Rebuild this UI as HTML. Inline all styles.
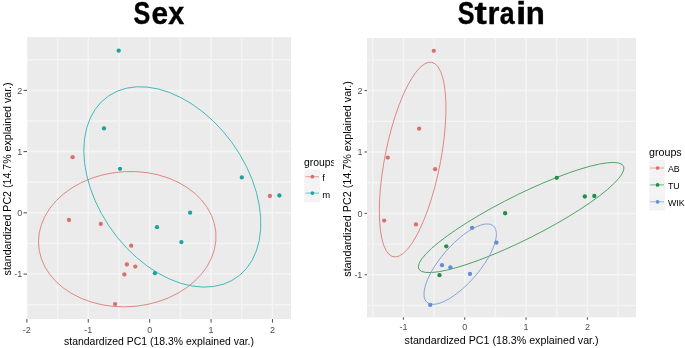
<!DOCTYPE html><html><head><meta charset="utf-8"><style>html,body{margin:0;padding:0;background:#fff;overflow:hidden}svg{display:block}</style></head><body>
<svg width="685" height="348" viewBox="0 0 685 348" font-family="Liberation Sans, Arial, sans-serif">
<rect width="685" height="348" fill="#fff"/>
<defs><clipPath id="cl"><rect x="27" y="37.2" width="264" height="281.9"/></clipPath></defs>
<rect x="27" y="37.2" width="264" height="281.9" fill="#EBEBEB"/>
<g clip-path="url(#cl)">
<line x1="57.56" y1="37.2" x2="57.56" y2="319.1" stroke="#F4F4F4" stroke-width="1.4"/>
<line x1="118.96" y1="37.2" x2="118.96" y2="319.1" stroke="#F4F4F4" stroke-width="1.4"/>
<line x1="180.36" y1="37.2" x2="180.36" y2="319.1" stroke="#F4F4F4" stroke-width="1.4"/>
<line x1="241.76" y1="37.2" x2="241.76" y2="319.1" stroke="#F4F4F4" stroke-width="1.4"/>
<line x1="27" y1="59.77" x2="291" y2="59.77" stroke="#F4F4F4" stroke-width="1.4"/>
<line x1="27" y1="121" x2="291" y2="121" stroke="#F4F4F4" stroke-width="1.4"/>
<line x1="27" y1="182.22" x2="291" y2="182.22" stroke="#F4F4F4" stroke-width="1.4"/>
<line x1="27" y1="243.46" x2="291" y2="243.46" stroke="#F4F4F4" stroke-width="1.4"/>
<line x1="27" y1="304.69" x2="291" y2="304.69" stroke="#F4F4F4" stroke-width="1.4"/>
<line x1="26.86" y1="37.2" x2="26.86" y2="319.1" stroke="#F5F5F5" stroke-width="1.5"/>
<line x1="88.26" y1="37.2" x2="88.26" y2="319.1" stroke="#F5F5F5" stroke-width="1.5"/>
<line x1="149.66" y1="37.2" x2="149.66" y2="319.1" stroke="#F5F5F5" stroke-width="1.5"/>
<line x1="211.06" y1="37.2" x2="211.06" y2="319.1" stroke="#F5F5F5" stroke-width="1.5"/>
<line x1="272.46" y1="37.2" x2="272.46" y2="319.1" stroke="#F5F5F5" stroke-width="1.5"/>
<line x1="27" y1="90.38" x2="291" y2="90.38" stroke="#F5F5F5" stroke-width="1.5"/>
<line x1="27" y1="151.61" x2="291" y2="151.61" stroke="#F5F5F5" stroke-width="1.5"/>
<line x1="27" y1="212.84" x2="291" y2="212.84" stroke="#F5F5F5" stroke-width="1.5"/>
<line x1="27" y1="274.07" x2="291" y2="274.07" stroke="#F5F5F5" stroke-width="1.5"/>
<path d="M38.47,241.77 L39.2,250.39 L41.38,258.84 L44.96,266.96 L49.9,274.62 L56.1,281.7 L63.48,288.09 L71.9,293.67 L81.23,298.35 L91.31,302.07 L101.99,304.75 L113.08,306.35 L124.4,306.85 L135.77,306.24 L147,304.53 L157.9,301.75 L168.3,297.93 L178.03,293.16 L186.93,287.49 L194.84,281.03 L201.64,273.89 L207.23,266.17 L211.49,258.01 L214.38,249.55 L215.83,240.91 L215.83,232.24 L214.38,223.69 L211.49,215.39 L207.23,207.48 L201.64,200.09 L194.84,193.34 L186.93,187.35 L178.03,182.2 L168.3,178 L157.9,174.79 L147,172.65 L135.77,171.59 L124.4,171.65 L113.08,172.81 L101.99,175.06 L91.31,178.37 L81.23,182.67 L71.9,187.91 L63.48,193.98 L56.1,200.79 L49.9,208.24 L44.96,216.19 L41.38,224.52 L39.2,233.09 L38.47,241.77Z" fill="none" stroke="#DC8882" stroke-width="1.0"/>
<path d="M83.8,150.42 L84.53,162.65 L86.7,175.28 L90.27,188.1 L95.19,200.9 L101.38,213.48 L108.73,225.61 L117.13,237.12 L126.43,247.79 L136.49,257.47 L147.14,265.99 L158.19,273.21 L169.48,279.02 L180.82,283.31 L192.02,286.02 L202.89,287.1 L213.27,286.54 L222.97,284.34 L231.84,280.54 L239.73,275.21 L246.51,268.42 L252.08,260.3 L256.33,250.97 L259.21,240.59 L260.66,229.33 L260.66,217.37 L259.21,204.92 L256.33,192.16 L252.08,179.33 L246.51,166.61 L239.73,154.23 L231.84,142.39 L222.97,131.28 L213.27,121.08 L202.89,111.96 L192.02,104.07 L180.82,97.55 L169.48,92.49 L158.19,88.98 L147.14,87.08 L136.49,86.82 L126.43,88.2 L117.13,91.21 L108.73,95.78 L101.38,101.86 L95.19,109.32 L90.27,118.07 L86.7,127.94 L84.53,138.78 L83.8,150.42Z" fill="none" stroke="#44B8B8" stroke-width="1.0"/>
<circle cx="72.6" cy="157.2" r="2.15" fill="#D87070"/>
<circle cx="69" cy="220" r="2.15" fill="#D87070"/>
<circle cx="100.8" cy="223.9" r="2.15" fill="#D87070"/>
<circle cx="131.2" cy="245.7" r="2.15" fill="#D87070"/>
<circle cx="126.9" cy="264.5" r="2.15" fill="#D87070"/>
<circle cx="135.3" cy="266.6" r="2.15" fill="#D87070"/>
<circle cx="124.4" cy="274.5" r="2.15" fill="#D87070"/>
<circle cx="115.1" cy="304.1" r="2.15" fill="#D87070"/>
<circle cx="269.9" cy="196" r="2.15" fill="#D87070"/>
<circle cx="118.7" cy="50.7" r="2.15" fill="#1DA39C"/>
<circle cx="104" cy="128.4" r="2.15" fill="#1DA39C"/>
<circle cx="120" cy="168.8" r="2.15" fill="#1DA39C"/>
<circle cx="241.8" cy="177.4" r="2.15" fill="#1DA39C"/>
<circle cx="279.4" cy="195.5" r="2.15" fill="#1DA39C"/>
<circle cx="190.1" cy="212.7" r="2.15" fill="#1DA39C"/>
<circle cx="157" cy="227.2" r="2.15" fill="#1DA39C"/>
<circle cx="181.4" cy="242.1" r="2.15" fill="#1DA39C"/>
<circle cx="154.9" cy="273.2" r="2.15" fill="#1DA39C"/>
</g>
<line x1="26.86" y1="319.1" x2="26.86" y2="322.6" stroke="#333" stroke-width="0.9"/>
<text x="26.86" y="333" text-anchor="middle" font-size="9" fill="#4D4D4D">-2</text>
<line x1="88.26" y1="319.1" x2="88.26" y2="322.6" stroke="#333" stroke-width="0.9"/>
<text x="88.26" y="333" text-anchor="middle" font-size="9" fill="#4D4D4D">-1</text>
<line x1="149.66" y1="319.1" x2="149.66" y2="322.6" stroke="#333" stroke-width="0.9"/>
<text x="149.66" y="333" text-anchor="middle" font-size="9" fill="#4D4D4D">0</text>
<line x1="211.06" y1="319.1" x2="211.06" y2="322.6" stroke="#333" stroke-width="0.9"/>
<text x="211.06" y="333" text-anchor="middle" font-size="9" fill="#4D4D4D">1</text>
<line x1="272.46" y1="319.1" x2="272.46" y2="322.6" stroke="#333" stroke-width="0.9"/>
<text x="272.46" y="333" text-anchor="middle" font-size="9" fill="#4D4D4D">2</text>
<line x1="23.5" y1="90.38" x2="27" y2="90.38" stroke="#333" stroke-width="0.9"/>
<text x="22.3" y="93.62" text-anchor="end" font-size="9" fill="#4D4D4D">2</text>
<line x1="23.5" y1="151.61" x2="27" y2="151.61" stroke="#333" stroke-width="0.9"/>
<text x="22.3" y="154.85" text-anchor="end" font-size="9" fill="#4D4D4D">1</text>
<line x1="23.5" y1="212.84" x2="27" y2="212.84" stroke="#333" stroke-width="0.9"/>
<text x="22.3" y="216.08" text-anchor="end" font-size="9" fill="#4D4D4D">0</text>
<line x1="23.5" y1="274.07" x2="27" y2="274.07" stroke="#333" stroke-width="0.9"/>
<text x="22.3" y="277.31" text-anchor="end" font-size="9" fill="#4D4D4D">-1</text>
<text y="23.7" font-weight="bold" font-size="32" fill="#000" stroke="#000" stroke-width="0.4"><tspan x="133.60" textLength="16.79" lengthAdjust="spacingAndGlyphs">S</tspan><tspan x="151.44" textLength="16.58" lengthAdjust="spacingAndGlyphs">e</tspan><tspan x="168.13" textLength="15.98" lengthAdjust="spacingAndGlyphs">x</tspan></text>
<text x="159" y="345" text-anchor="middle" font-size="11" textLength="190" lengthAdjust="spacingAndGlyphs" fill="#000">standardized PC1 (18.3% explained var.)</text>
<text transform="translate(10.9,178.9) rotate(-90)" x="0" y="0" text-anchor="middle" font-size="11" textLength="193" lengthAdjust="spacingAndGlyphs" fill="#000">standardized PC2 (14.7% explained var.)</text>
<clipPath id="lgc"><rect x="0" y="0" width="333.8" height="348"/></clipPath><text clip-path="url(#lgc)" x="304" y="165.8" font-size="10.4" fill="#000">groups</text>
<rect x="304.2" y="169.5" width="16" height="16.4" fill="#F3F3F3"/>
<line x1="305.5" y1="176.7" x2="319" y2="176.7" stroke="#DC8882" stroke-width="0.8"/>
<circle cx="312.4" cy="176.7" r="1.85" fill="#D87070"/>
<text x="322.2" y="181.3" font-size="9.5" fill="#000">f</text>
<rect x="304.2" y="185.9" width="16" height="16.4" fill="#F3F3F3"/>
<line x1="305.5" y1="193.1" x2="319" y2="193.1" stroke="#44B8B8" stroke-width="0.8"/>
<circle cx="312.4" cy="193.1" r="1.85" fill="#1DA39C"/>
<text x="322.2" y="197.7" font-size="9.5" fill="#000">m</text>
<defs><clipPath id="cr"><rect x="367" y="38" width="269" height="279.4"/></clipPath></defs>
<rect x="367" y="38" width="269" height="279.4" fill="#EBEBEB"/>
<g clip-path="url(#cr)">
<line x1="372.74" y1="38" x2="372.74" y2="317.4" stroke="#F4F4F4" stroke-width="1.4"/>
<line x1="434.06" y1="38" x2="434.06" y2="317.4" stroke="#F4F4F4" stroke-width="1.4"/>
<line x1="495.4" y1="38" x2="495.4" y2="317.4" stroke="#F4F4F4" stroke-width="1.4"/>
<line x1="556.73" y1="38" x2="556.73" y2="317.4" stroke="#F4F4F4" stroke-width="1.4"/>
<line x1="618.06" y1="38" x2="618.06" y2="317.4" stroke="#F4F4F4" stroke-width="1.4"/>
<line x1="367" y1="59.88" x2="636" y2="59.88" stroke="#F4F4F4" stroke-width="1.4"/>
<line x1="367" y1="121.28" x2="636" y2="121.28" stroke="#F4F4F4" stroke-width="1.4"/>
<line x1="367" y1="182.68" x2="636" y2="182.68" stroke="#F4F4F4" stroke-width="1.4"/>
<line x1="367" y1="244.08" x2="636" y2="244.08" stroke="#F4F4F4" stroke-width="1.4"/>
<line x1="367" y1="305.48" x2="636" y2="305.48" stroke="#F4F4F4" stroke-width="1.4"/>
<line x1="403.4" y1="38" x2="403.4" y2="317.4" stroke="#F5F5F5" stroke-width="1.5"/>
<line x1="464.73" y1="38" x2="464.73" y2="317.4" stroke="#F5F5F5" stroke-width="1.5"/>
<line x1="526.06" y1="38" x2="526.06" y2="317.4" stroke="#F5F5F5" stroke-width="1.5"/>
<line x1="587.39" y1="38" x2="587.39" y2="317.4" stroke="#F5F5F5" stroke-width="1.5"/>
<line x1="367" y1="90.58" x2="636" y2="90.58" stroke="#F5F5F5" stroke-width="1.5"/>
<line x1="367" y1="151.98" x2="636" y2="151.98" stroke="#F5F5F5" stroke-width="1.5"/>
<line x1="367" y1="213.38" x2="636" y2="213.38" stroke="#F5F5F5" stroke-width="1.5"/>
<line x1="367" y1="274.78" x2="636" y2="274.78" stroke="#F5F5F5" stroke-width="1.5"/>
<path d="M379.33,210.99 L379.6,221.14 L380.42,230.28 L381.76,238.26 L383.62,244.95 L385.95,250.24 L388.71,254.03 L391.87,256.28 L395.37,256.93 L399.16,255.99 L403.17,253.47 L407.33,249.4 L411.58,243.86 L415.85,236.93 L420.06,228.73 L424.15,219.4 L428.06,209.08 L431.71,197.95 L435.05,186.19 L438.02,174 L440.57,161.56 L442.66,149.09 L444.27,136.8 L445.35,124.88 L445.9,113.52 L445.9,102.93 L445.35,93.26 L444.27,84.68 L442.66,77.33 L440.57,71.34 L438.02,66.79 L435.05,63.76 L431.71,62.3 L428.06,62.45 L424.15,64.18 L420.06,67.49 L415.85,72.3 L411.58,78.55 L407.33,86.13 L403.17,94.91 L399.16,104.76 L395.37,115.5 L391.87,126.97 L388.71,138.97 L385.95,151.31 L383.62,163.79 L381.76,176.2 L380.42,188.33 L379.6,199.99 L379.33,210.99Z" fill="none" stroke="#DC8882" stroke-width="1.0"/>
<path d="M418.3,266.83 L419.14,269.56 L421.66,271.44 L425.81,272.44 L431.53,272.53 L438.72,271.72 L447.26,270.02 L457.02,267.45 L467.83,264.07 L479.51,259.92 L491.88,255.08 L504.73,249.62 L517.84,243.63 L531.01,237.22 L544.02,230.48 L556.66,223.53 L568.71,216.47 L579.98,209.44 L590.28,202.54 L599.45,195.88 L607.33,189.58 L613.8,183.74 L618.74,178.46 L622.08,173.81 L623.77,169.88 L623.77,166.74 L622.08,164.43 L618.74,162.99 L613.8,162.44 L607.33,162.8 L599.45,164.06 L590.28,166.2 L579.98,169.17 L568.71,172.95 L556.66,177.45 L544.02,182.61 L531.01,188.35 L517.84,194.56 L504.73,201.16 L491.88,208.01 L479.51,215.03 L467.83,222.09 L457.02,229.07 L447.26,235.86 L438.72,242.35 L431.53,248.44 L425.81,254.01 L421.66,258.99 L419.14,263.28 L418.3,266.83Z" fill="none" stroke="#4CA366" stroke-width="1.0"/>
<path d="M423.97,294.14 L424.27,297.32 L425.15,299.95 L426.62,301.99 L428.63,303.41 L431.16,304.18 L434.17,304.3 L437.6,303.76 L441.41,302.56 L445.52,300.74 L449.87,298.31 L454.4,295.33 L459.01,291.83 L463.65,287.87 L468.23,283.53 L472.68,278.87 L476.92,273.96 L480.89,268.9 L484.52,263.75 L487.74,258.62 L490.52,253.57 L492.8,248.69 L494.54,244.07 L495.71,239.78 L496.31,235.89 L496.31,232.46 L495.71,229.56 L494.54,227.22 L492.8,225.48 L490.52,224.38 L487.74,223.93 L484.52,224.15 L480.89,225.02 L476.92,226.53 L472.68,228.66 L468.23,231.37 L463.65,234.62 L459.01,238.35 L454.4,242.51 L449.87,247.02 L445.52,251.82 L441.41,256.81 L437.6,261.93 L434.17,267.08 L431.16,272.18 L428.63,277.15 L426.62,281.91 L425.15,286.38 L424.27,290.48 L423.97,294.14Z" fill="none" stroke="#84A2D6" stroke-width="1.0"/>
<circle cx="387.76" cy="157.59" r="2.15" fill="#D87070"/>
<circle cx="384.16" cy="220.56" r="2.15" fill="#D87070"/>
<circle cx="415.93" cy="224.47" r="2.15" fill="#D87070"/>
<circle cx="433.81" cy="50.79" r="2.15" fill="#D87070"/>
<circle cx="419.12" cy="128.71" r="2.15" fill="#D87070"/>
<circle cx="435.1" cy="169.22" r="2.15" fill="#D87070"/>
<circle cx="446.29" cy="246.33" r="2.15" fill="#1E9048"/>
<circle cx="439.5" cy="275.21" r="2.15" fill="#1E9048"/>
<circle cx="584.83" cy="196.49" r="2.15" fill="#1E9048"/>
<circle cx="556.76" cy="177.84" r="2.15" fill="#1E9048"/>
<circle cx="594.32" cy="195.99" r="2.15" fill="#1E9048"/>
<circle cx="505.12" cy="213.24" r="2.15" fill="#1E9048"/>
<circle cx="442" cy="265.18" r="2.15" fill="#628CD4"/>
<circle cx="450.39" cy="267.29" r="2.15" fill="#628CD4"/>
<circle cx="430.21" cy="304.89" r="2.15" fill="#628CD4"/>
<circle cx="472.06" cy="227.78" r="2.15" fill="#628CD4"/>
<circle cx="496.43" cy="242.72" r="2.15" fill="#628CD4"/>
<circle cx="469.96" cy="273.91" r="2.15" fill="#628CD4"/>
</g>
<line x1="403.4" y1="317.4" x2="403.4" y2="319.8" stroke="#333" stroke-width="0.9"/>
<text x="403.4" y="330" text-anchor="middle" font-size="9" fill="#4D4D4D">-1</text>
<line x1="464.73" y1="317.4" x2="464.73" y2="319.8" stroke="#333" stroke-width="0.9"/>
<text x="464.73" y="330" text-anchor="middle" font-size="9" fill="#4D4D4D">0</text>
<line x1="526.06" y1="317.4" x2="526.06" y2="319.8" stroke="#333" stroke-width="0.9"/>
<text x="526.06" y="330" text-anchor="middle" font-size="9" fill="#4D4D4D">1</text>
<line x1="587.39" y1="317.4" x2="587.39" y2="319.8" stroke="#333" stroke-width="0.9"/>
<text x="587.39" y="330" text-anchor="middle" font-size="9" fill="#4D4D4D">2</text>
<line x1="364.6" y1="90.58" x2="367" y2="90.58" stroke="#333" stroke-width="0.9"/>
<text x="362.4" y="93.82" text-anchor="end" font-size="9" fill="#4D4D4D">2</text>
<line x1="364.6" y1="151.98" x2="367" y2="151.98" stroke="#333" stroke-width="0.9"/>
<text x="362.4" y="155.22" text-anchor="end" font-size="9" fill="#4D4D4D">1</text>
<line x1="364.6" y1="213.38" x2="367" y2="213.38" stroke="#333" stroke-width="0.9"/>
<text x="362.4" y="216.62" text-anchor="end" font-size="9" fill="#4D4D4D">0</text>
<line x1="364.6" y1="274.78" x2="367" y2="274.78" stroke="#333" stroke-width="0.9"/>
<text x="362.4" y="278.02" text-anchor="end" font-size="9" fill="#4D4D4D">-1</text>
<text y="23.7" font-weight="bold" font-size="32" fill="#000" stroke="#000" stroke-width="0.4"><tspan x="457.70" textLength="16.79" lengthAdjust="spacingAndGlyphs">S</tspan><tspan x="474.56" textLength="12.29" lengthAdjust="spacingAndGlyphs">t</tspan><tspan x="487.41" textLength="11.93" lengthAdjust="spacingAndGlyphs">r</tspan><tspan x="499.83" textLength="14.79" lengthAdjust="spacingAndGlyphs">a</tspan><tspan x="516.12" textLength="10.39" lengthAdjust="spacingAndGlyphs">i</tspan><tspan x="525.87" textLength="19.06" lengthAdjust="spacingAndGlyphs">n</tspan></text>
<text x="501.6" y="343.6" text-anchor="middle" font-size="11" textLength="194" lengthAdjust="spacingAndGlyphs" fill="#000">standardized PC1 (18.3% explained var.)</text>
<text transform="translate(351,179) rotate(-90)" x="0" y="0" text-anchor="middle" font-size="11" textLength="195.5" lengthAdjust="spacingAndGlyphs" fill="#000">standardized PC2 (14.7% explained var.)</text>
<text x="649" y="156.1" font-size="10.7" fill="#000">groups</text>
<rect x="649.2" y="159.8" width="15.8" height="16.9" fill="#F3F3F3"/>
<line x1="650.2" y1="168" x2="664" y2="168" stroke="#DC8882" stroke-width="0.8"/>
<circle cx="657.6" cy="168" r="1.85" fill="#D87070"/>
<text x="668" y="171.8" font-size="8.8" fill="#000">AB</text>
<rect x="649.2" y="176.7" width="15.8" height="16.9" fill="#F3F3F3"/>
<line x1="650.2" y1="184.9" x2="664" y2="184.9" stroke="#4CA366" stroke-width="0.8"/>
<circle cx="657.6" cy="184.9" r="1.85" fill="#1E9048"/>
<text x="668" y="188.7" font-size="8.8" fill="#000">TU</text>
<rect x="649.2" y="193.6" width="15.8" height="16.9" fill="#F3F3F3"/>
<line x1="650.2" y1="201.8" x2="664" y2="201.8" stroke="#84A2D6" stroke-width="0.8"/>
<circle cx="657.6" cy="201.8" r="1.85" fill="#628CD4"/>
<text x="668" y="205.6" font-size="8.8" fill="#000">WIK</text>
</svg></body></html>
